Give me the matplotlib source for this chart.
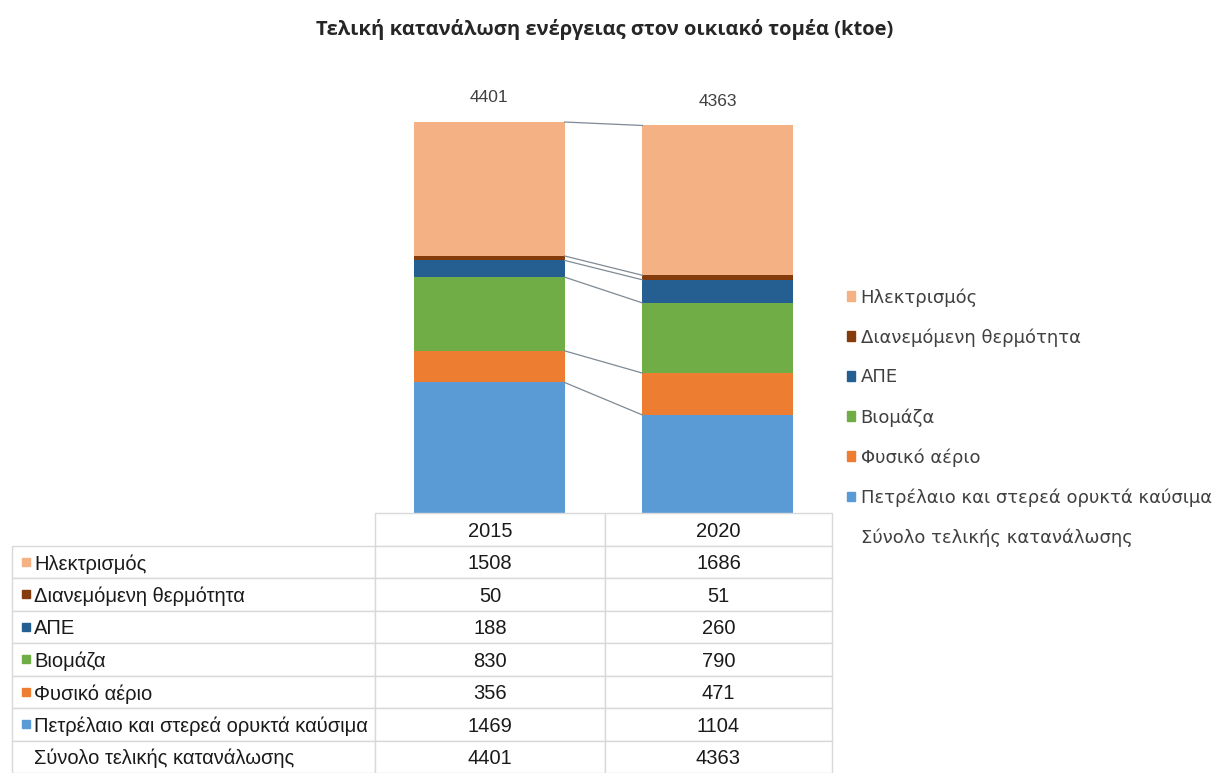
import numpy as np
import matplotlib
matplotlib.use("Agg")
import matplotlib.pyplot as plt
from matplotlib.patches import Patch

# --- Δεδομένα ---
years = ["2015", "2020"]
series_names = [
    "Πετρέλαιο και στερεά ορυκτά καύσιμα",
    "Φυσικό αέριο",
    "Βιομάζα",
    "ΑΠΕ",
    "Διανεμόμενη θερμότητα",
    "Ηλεκτρισμός",
]
oil = [1469, 1104]
gas = [356, 471]
biomass = [830, 790]
res = [188, 260]
heat = [50, 51]
electricity = [1508, 1686]
totals = [4401, 4363]
total_name = "Σύνολο τελικής κατανάλωσης"
title = "Τελική κατανάλωση ενέργειας στον οικιακό τομέα (ktoe)"

colors = ["#5B9BD5", "#ED7D31", "#70AD47", "#255E91", "#843C0C", "#F4B183"]
values = [oil, gas, biomass, res, heat, electricity]

plt.rcParams["font.family"] = ["Liberation Sans", "DejaVu Sans"]

W, H = 1222, 773
fig = plt.figure(figsize=(W / 100, H / 100), dpi=100)

# --- Γράφημα στοιβαγμένων ράβδων ---
ax = fig.add_axes([375 / W, 260 / H, 457 / W, 444.2 / H])
x = np.arange(len(years))
bar_w = 0.66
bottom = np.zeros(len(years))
tops = []
for name, vals, c in zip(series_names, values, colors):
    ax.bar(x, vals, bar_w, bottom=bottom, color=c, label=name)
    bottom = bottom + np.array(vals)
    tops.append(bottom.copy())

# γραμμές σειράς μεταξύ των ράβδων
for t in tops:
    ax.plot([x[0] + bar_w / 2, x[1] - bar_w / 2], [t[0], t[1]],
            color="#7F8A94", lw=0.9, zorder=1)

for xi, tot in zip(x, totals):
    ax.annotate(str(tot), (xi, tot), xytext=(0, 17.5), textcoords="offset points",
                ha="center", va="center", fontsize=12.5, color="#404040")

ax.set_xlim(-0.5, 1.5)
ax.set_ylim(0, 5000)
ax.axis("off")

fig.text(605 / W, 1 - 30 / H, title, ha="center", va="center",
         fontsize=14.5, fontweight="bold", color="#262626",
         family=["Open Sans", "DejaVu Sans"])

# --- Υπόμνημα ---
handles = [Patch(color=c) for c in colors[::-1]] + [Patch(color="none")]
labels = series_names[::-1] + [total_name]
fig.legend(handles, labels, loc="upper left", bbox_to_anchor=(847 / W, 1 - 288 / H),
           frameon=False, borderpad=0, borderaxespad=0, handlelength=0.45,
           handleheight=0.45, handletextpad=0.3, labelspacing=1.2,
           prop={"family": ["DejaVu Sans"], "size": 13},
           labelcolor="#404040")

# --- Πίνακας δεδομένων ---
ax_tab = fig.add_axes([12 / W, 0, 820 / W, 260 / H])
ax_tab.axis("off")
cell_text = []
for name, vals in zip(series_names[::-1], values[::-1]):
    cell_text.append([name] + [str(v) for v in vals])
cell_text.append([total_name] + [str(v) for v in totals])
col_w = np.array([363, 230, 227]) / 820
tab = ax_tab.table(cellText=cell_text, colLabels=[""] + years, colWidths=col_w,
                   cellLoc="center", bbox=[0, 0, 1, 1])
tab.auto_set_font_size(False)
tab.set_fontsize(14.5)
for (r, c), cell in tab.get_celld().items():
    cell.set_edgecolor("#D9D9D9")
    cell.set_linewidth(1.0)
    cell.get_text().set_color("#1A1A1A")
    cell.get_text().set_va("center_baseline")
    if c == 0:
        cell.get_text().set_ha("left")
        cell.PAD = 22 / 363
tab[0, 0].visible_edges = "open"

n_rows = len(cell_text) + 1
row_h = 1 / n_rows
for i, c in enumerate(colors[::-1]):
    yc = 1 - (i + 1.5) * row_h
    ax_tab.plot([14 / 820], [yc], marker="s", ms=6, color=c,
                transform=ax_tab.transAxes, clip_on=False, ls="none")

fig.savefig("out.png", dpi=100)
